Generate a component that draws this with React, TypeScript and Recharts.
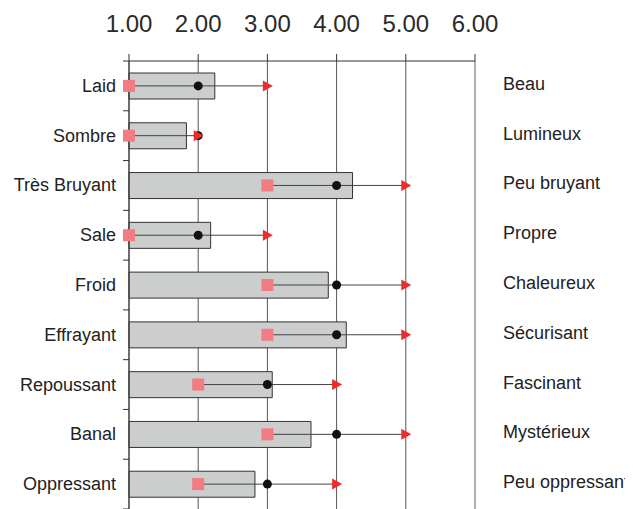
import React from "react";
import { ComposedChart, Bar, Line, XAxis, YAxis, CartesianGrid, ErrorBar, ReferenceLine } from "recharts";

const categories = ["Laid", "Sombre", "Très Bruyant", "Sale", "Froid", "Effrayant", "Repoussant", "Banal", "Oppressant"];
const opposites = ["Beau", "Lumineux", "Peu bruyant", "Propre", "Chaleureux", "Sécurisant", "Fascinant", "Mystérieux", "Peu oppressant"];
const means = [2.24, 1.83, 4.23, 2.18, 3.88, 4.14, 3.07, 3.63, 2.82];
const mins = [1, 1, 3, 1, 3, 3, 2, 3, 2];
const medians = [2, 2, 4, 2, 4, 4, 3, 4, 3];
const maxs = [3, 2, 5, 3, 5, 5, 4, 5, 4];
const xTicks = [1, 2, 3, 4, 5, 6];

const W = 625;
const H = 501;
const TOP_H = 53;
const band = (H - TOP_H) / categories.length;
const FONT = "'Liberation Sans', Arial, sans-serif";

const data = categories.map((c, i) => ({
  name: c,
  right: opposites[i],
  mean: means[i],
  min: mins[i],
  median: medians[i],
  max: maxs[i],
  span: [0, maxs[i] - mins[i]],
}));

function LeftTick(props: any) {
  const { x, y, payload, index } = props;
  const ax = x + 13;
  return (
    <g>
      <text x={x} y={y} dy={6} textAnchor="end" fontSize={18} fill="#222" fontFamily={FONT}>
        {payload.value}
      </text>
      <line x1={ax - 6} x2={ax} y1={y - band / 2} y2={y - band / 2} stroke="#333" />
      {index === categories.length - 1 && (
        <line x1={ax - 6} x2={ax} y1={y + band / 2} y2={y + band / 2} stroke="#333" />
      )}
    </g>
  );
}

function RightTick(props: any) {
  const { x, y, payload } = props;
  return (
    <text x={x} y={y} dy={4} textAnchor="start" fontSize={18} fill="#222" fontFamily={FONT}>
      {payload.value}
    </text>
  );
}

const Square = (p: any) =>
  p.cx == null ? null : <rect key={p.index} x={p.cx - 6} y={p.cy - 6} width={12} height={12} fill="#f27c81" />;
const Dot = (p: any) =>
  p.cx == null ? null : <circle key={p.index} cx={p.cx} cy={p.cy} r={4.5} fill="#111" />;
const Tri = (p: any) =>
  p.cx == null ? null : (
    <path key={p.index} d={`M${p.cx - 4.5},${p.cy - 5.5} L${p.cx + 5.5},${p.cy} L${p.cx - 4.5},${p.cy + 5.5} Z`} fill="#ee2b2b" />
  );

export default function App() {
  return (
    <div style={{ width: W, height: H }}>
      <style>{"html{overflow:hidden} svg.recharts-surface{overflow:visible} .recharts-wrapper{overflow:visible}"}</style>
      <ComposedChart width={W} height={H} data={data} layout="vertical" margin={{ top: 0, right: 0, bottom: 0, left: 0 }}>
        <CartesianGrid horizontal={false} stroke="#555" />
        <ReferenceLine x={6} stroke="#b5b5b5" />
        <XAxis
          type="number"
          orientation="top"
          domain={[1, 6]}
          ticks={xTicks}
          height={TOP_H}
          tickSize={7}
          tickMargin={22}
          tickFormatter={(v) => Number(v).toFixed(2)}
          tick={{ fontSize: 24, fill: "#2a2a2a", fontFamily: FONT }}
          stroke="#333"
        />
        <YAxis type="category" dataKey="name" width={121} tickSize={0} tickMargin={13} tickLine={false} tick={<LeftTick />} stroke="#333" interval={0} />
        <YAxis yAxisId="right" orientation="right" type="category" dataKey="right" width={158} tickSize={0} tickMargin={28} axisLine={false} tickLine={false} tick={<RightTick />} interval={0} />
        <Bar dataKey="mean" barSize={26} fill="#cbcecd" stroke="#333" strokeWidth={1} isAnimationActive={false} />
        <Line dataKey="min" stroke="none" dot={false} activeDot={false} isAnimationActive={false}>
          <ErrorBar dataKey="span" direction="x" width={0} stroke="#444" strokeWidth={1} isAnimationActive={false} />
        </Line>
        <Line dataKey="min" stroke="none" dot={Square} activeDot={false} isAnimationActive={false} />
        <Line dataKey="median" stroke="none" dot={Dot} activeDot={false} isAnimationActive={false} />
        <Line dataKey="max" stroke="none" dot={Tri} activeDot={false} isAnimationActive={false} />
      </ComposedChart>
    </div>
  );
}
